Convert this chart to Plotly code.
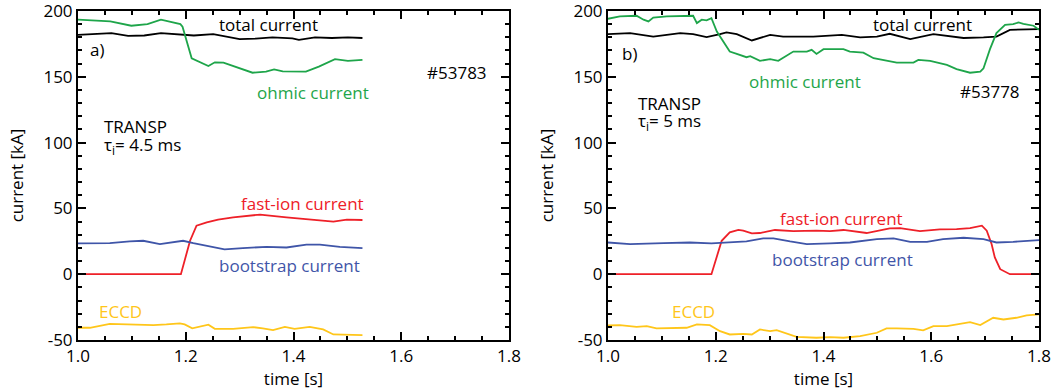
import plotly.graph_objects as go
from plotly.subplots import make_subplots

# ---- shot #53783 (panel a) ----
t_tot_a = [1.000, 1.032, 1.062, 1.093, 1.123, 1.154, 1.190, 1.215, 1.251, 1.276, 1.300, 1.330,
           1.361, 1.398, 1.410, 1.440, 1.471, 1.501, 1.528]
i_tot_a = [181.9, 182.4, 183.2, 181.1, 181.4, 183.2, 181.9, 181.4, 182.4, 180.6, 178.6, 179.0,
           180.0, 179.2, 178.1, 180.0, 179.5, 180.0, 179.5]

t_ohm_a = [1.000, 1.032, 1.060, 1.099, 1.129, 1.154, 1.190, 1.194, 1.211, 1.242, 1.254, 1.270,
           1.288, 1.324, 1.349, 1.364, 1.380, 1.423, 1.447, 1.477, 1.501, 1.528]
i_ohm_a = [193.4, 192.9, 192.1, 188.8, 190.0, 193.4, 190.0, 188.0, 164.1, 158.2, 161.0, 160.8,
           158.2, 153.1, 153.9, 155.6, 154.1, 153.9, 157.7, 163.4, 162.1, 162.9]

t_fi_a = [1.000, 1.191, 1.208, 1.220, 1.239, 1.260, 1.288, 1.338, 1.387, 1.437, 1.474, 1.499, 1.528]
i_fi_a = [0.0, 0.0, 25.4, 36.9, 39.4, 41.5, 43.2, 45.3, 43.2, 41.2, 39.9, 41.4, 41.2]

t_bs_a = [1.000, 1.059, 1.096, 1.121, 1.152, 1.195, 1.214, 1.251, 1.272, 1.306, 1.350, 1.387,
          1.424, 1.449, 1.486, 1.528]
i_bs_a = [23.4, 23.6, 24.9, 25.4, 22.9, 25.4, 23.6, 20.8, 18.8, 19.8, 20.8, 20.3,
          22.4, 22.4, 20.8, 19.8]

t_ec_a = [1.000, 1.022, 1.059, 1.096, 1.140, 1.164, 1.189, 1.198, 1.212, 1.242, 1.254, 1.288,
          1.325, 1.343, 1.362, 1.384, 1.402, 1.430, 1.455, 1.474, 1.505, 1.528]
i_ec_a = [-40.7, -40.7, -37.7, -38.2, -38.7, -38.2, -37.4, -38.2, -41.2, -38.4, -41.5, -41.5,
          -40.2, -41.2, -42.5, -40.0, -41.5, -40.0, -42.0, -45.8, -45.8, -46.3]

# ---- shot #53778 (panel b) ----
t_tot_b = [1.000, 1.041, 1.084, 1.134, 1.158, 1.183, 1.208, 1.220, 1.239, 1.267, 1.301, 1.325,
           1.381, 1.434, 1.468, 1.499, 1.523, 1.561, 1.604, 1.635, 1.660, 1.697, 1.721, 1.746, 1.800]
i_tot_b = [182.4, 183.2, 180.6, 183.2, 182.4, 180.2, 182.4, 183.7, 182.4, 177.6, 181.9, 180.6,
           180.6, 181.9, 179.9, 180.6, 182.7, 178.6, 182.4, 180.6, 179.5, 179.9, 180.6, 185.7, 186.3]

t_ohm_b = [1.000, 1.022, 1.053, 1.066, 1.075, 1.084, 1.109, 1.158, 1.165, 1.174, 1.183, 1.192,
           1.202, 1.226, 1.239, 1.257, 1.264, 1.282, 1.301, 1.316, 1.344, 1.369, 1.378, 1.387,
           1.400, 1.437, 1.449, 1.474, 1.493, 1.536, 1.567, 1.576, 1.598, 1.629, 1.647, 1.672,
           1.691, 1.697, 1.709, 1.721, 1.737, 1.752, 1.762, 1.771, 1.790, 1.800]
i_ohm_b = [194.1, 195.9, 196.4, 193.4, 192.1, 195.0, 195.9, 196.4, 190.8, 193.4, 192.9, 194.6,
           184.4, 169.2, 167.4, 164.9, 165.7, 162.1, 163.4, 162.1, 169.2, 169.2, 170.5, 167.4,
           171.0, 171.0, 169.2, 168.4, 164.1, 160.8, 160.8, 162.8, 162.1, 159.0, 155.9, 153.1,
           153.9, 156.5, 171.0, 183.2, 189.5, 190.0, 191.3, 190.3, 188.8, 185.7]

t_fi_b = [1.000, 1.192, 1.211, 1.226, 1.242, 1.251, 1.267, 1.282, 1.310, 1.344, 1.387, 1.412,
          1.437, 1.480, 1.523, 1.542, 1.579, 1.616, 1.647, 1.672, 1.694, 1.703, 1.712, 1.718,
          1.728, 1.746, 1.800]
i_fi_b = [0.0, 0.0, 25.4, 31.8, 33.6, 33.1, 31.0, 31.3, 33.6, 32.8, 33.1, 32.8,
          33.6, 31.3, 34.8, 35.0, 32.8, 34.0, 34.3, 35.0, 36.9, 33.1, 22.9, 12.7,
          3.8, 0.0, 0.0]

t_bs_b = [1.000, 1.041, 1.103, 1.152, 1.192, 1.239, 1.257, 1.288, 1.307, 1.338, 1.369, 1.412,
          1.449, 1.499, 1.530, 1.561, 1.592, 1.622, 1.660, 1.697, 1.721, 1.752, 1.800]
i_bs_b = [24.1, 22.9, 23.6, 24.1, 23.4, 24.1, 24.9, 27.2, 27.2, 24.9, 22.9, 23.4,
          24.1, 26.7, 27.2, 24.6, 24.6, 26.7, 27.7, 26.7, 24.1, 24.6, 25.9]

t_ec_b = [1.000, 1.022, 1.053, 1.072, 1.090, 1.115, 1.146, 1.165, 1.189, 1.208, 1.226, 1.251,
          1.267, 1.282, 1.301, 1.313, 1.350, 1.387, 1.412, 1.437, 1.468, 1.499, 1.517, 1.536,
          1.567, 1.585, 1.604, 1.629, 1.653, 1.672, 1.691, 1.715, 1.734, 1.758, 1.777, 1.800]
i_ec_b = [-39.0, -38.7, -40.0, -39.5, -41.2, -41.2, -40.7, -38.2, -38.7, -43.3, -45.8, -45.3,
          -45.8, -42.0, -43.3, -42.5, -47.6, -48.3, -47.8, -48.3, -47.0, -44.5, -41.2, -41.2,
          -41.5, -42.7, -39.4, -39.4, -37.4, -36.4, -38.7, -33.1, -34.4, -33.1, -31.3, -30.5]

x_ticks = [1.0, 1.2, 1.4, 1.6, 1.8]
x_tick_labels = ["1.0", "1.2", "1.4", "1.6", "1.8"]
y_ticks = [-50, 0, 50, 100, 150, 200]
y_tick_labels = ["-50", "0", "50", "100", "150", "200"]

BLACK = "#000000"
GREEN = "#1ea54a"
RED = "#ee2028"
BLUE = "#3f55a8"
YELLOW = "#ffc61a"
FONT = "Open Sans"
FS = 17

fig = make_subplots(rows=1, cols=2, horizontal_spacing=0.0)

panels = [
    (1, [(t_tot_a, i_tot_a, BLACK), (t_ohm_a, i_ohm_a, GREEN), (t_fi_a, i_fi_a, RED),
         (t_bs_a, i_bs_a, BLUE), (t_ec_a, i_ec_a, YELLOW)]),
    (2, [(t_tot_b, i_tot_b, BLACK), (t_ohm_b, i_ohm_b, GREEN), (t_fi_b, i_fi_b, RED),
         (t_bs_b, i_bs_b, BLUE), (t_ec_b, i_ec_b, YELLOW)]),
]
for col, series in panels:
    for t, i, c in series:
        fig.add_trace(go.Scatter(x=t, y=i, mode="lines", line=dict(color=c, width=1.8),
                                 showlegend=False, hoverinfo="skip"), row=1, col=col)

axis_common = dict(showline=True, linecolor="black", linewidth=2, mirror="allticks",
                   ticks="inside", ticklen=8, tickwidth=1.5, tickcolor="black",
                   showgrid=False, zeroline=False, automargin=False,
                   ticklabeloverflow="allow",
                   tickfont=dict(family=FONT, size=FS, color="black"))

for col, dom in [(1, [78 / 1060, 509 / 1060]), (2, [608 / 1060, 1039 / 1060])]:
    fig.update_xaxes(axis_common, domain=dom, range=[1.0, 1.8], tickvals=x_ticks,
                     ticktext=x_tick_labels,
                     minor=dict(dtick=0.05, tick0=1.0, ticks="inside", ticklen=4,
                                tickwidth=1.5, tickcolor="black"),
                     title=dict(text="time [s]", font=dict(family=FONT, size=FS, color="black"),
                                standoff=4),
                     row=1, col=col)
    fig.update_yaxes(axis_common, range=[-50, 200], tickvals=y_ticks, ticktext=y_tick_labels,
                     minor=dict(dtick=10, tick0=0, ticks="inside", ticklen=4,
                                tickwidth=1.5, tickcolor="black"),
                     title=dict(text="current [kA]", font=dict(family=FONT, size=FS, color="black"),
                                standoff=15),
                     row=1, col=col)


def label(xref, yref, x, y, text, color, anchor="center"):
    fig.add_annotation(x=x, y=y, xref=xref, yref=yref, text=text, showarrow=False,
                       xanchor=anchor, yanchor="middle",
                       font=dict(family=FONT, size=FS, color=color))


label("x", "y", 1.3536, 189.5, "total current", BLACK)
label("x", "y", 1.019, 171.0, "a)", BLACK, "left")
label("x", "y", 1.7035, 153.0, "#53783", BLACK)
label("x", "y", 1.4358, 137.9, "ohmic current", GREEN)
label("x", "y", 1.044, 112.5, "TRANSP", BLACK, "left")
label("x", "y", 1.044, 97.5, "τ<sub>i</sub>= 4.5 ms", BLACK, "left")
label("x", "y", 1.4167, 53.4, "fast-ion current", RED)
label("x", "y", 1.392, 6.3, "bootstrap current", BLUE)
label("x", "y", 1.0795, -28.0, "ECCD", YELLOW)

label("x2", "y2", 1.5843, 190.0, "total current", BLACK)
label("x2", "y2", 1.022, 168.0, "b)", BLACK, "left")
label("x2", "y2", 1.3657, 146.3, "ohmic current", GREEN)
label("x2", "y2", 1.7097, 138.6, "#53778", BLACK)
label("x2", "y2", 1.052, 130.0, "TRANSP", BLACK, "left")
label("x2", "y2", 1.052, 116.0, "τ<sub>i</sub>= 5 ms", BLACK, "left")
label("x2", "y2", 1.4338, 42.5, "fast-ion current", RED)
label("x2", "y2", 1.4348, 11.4, "bootstrap current", BLUE)
label("x2", "y2", 1.1578, -28.5, "ECCD", YELLOW)

fig.update_layout(width=1060, height=392, margin=dict(l=0, r=0, t=11, b=52),
                  paper_bgcolor="white", plot_bgcolor="white",
                  font=dict(family=FONT, size=FS, color="black"))

fig.write_html("out.html")
